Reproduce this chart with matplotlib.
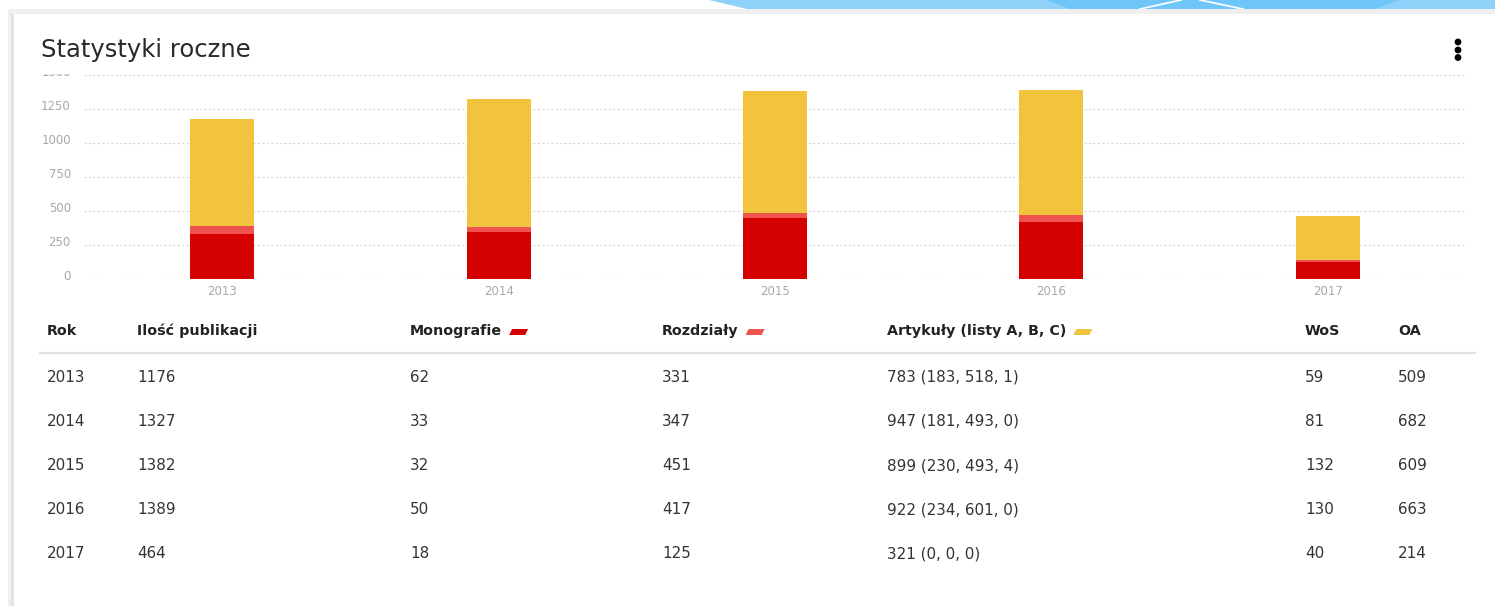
import matplotlib
matplotlib.use("Agg")
import matplotlib.pyplot as plt
from matplotlib.patches import Rectangle, Polygon, Circle
from matplotlib.transforms import IdentityTransform, ScaledTranslation

plt.rcParams['font.family'] = ['DejaVu Sans']

# ---- data ----
years = ["2013", "2014", "2015", "2016", "2017"]
total = [1176, 1327, 1382, 1389, 464]
monografie = [62, 33, 32, 50, 18]
rozdzialy = [331, 347, 451, 417, 125]
artykuly = [783, 947, 899, 922, 321]
artykuly_detail = ["(183, 518, 1)", "(181, 493, 0)", "(230, 493, 4)", "(234, 601, 0)", "(0, 0, 0)"]
wos = [59, 81, 132, 130, 40]
oa = [509, 682, 609, 663, 214]
yticks = [0, 250, 500, 750, 1000, 1250, 1500]
headers = ["Rok", "Ilość publikacji", "Monografie", "Rozdziały", "Artykuły (listy A, B, C)", "WoS", "OA"]

C_DARK = "#d50000"
C_LIGHT = "#ef5350"
C_YEL = "#f2c43d"

W, H = 1495, 606
fig = plt.figure(figsize=(W / 100, H / 100), dpi=100)
fig.patch.set_facecolor("white")
ID = IdentityTransform()


def px(x, y):
    return x, H - y


def fx(x):
    return x / W


def fy(y):
    return 1 - y / H


# ---- background decoration ----
fig.patches.append(Polygon([px(709, 0), px(1495, 0), px(1495, 9), px(747, 9)],
                           closed=True, transform=ID, facecolor="#90d3fa", edgecolor="none", zorder=-5))
fig.patches.append(Polygon([px(1046, 0), px(1400, 0), px(1375, 9), px(1070, 9)],
                           closed=True, transform=ID, facecolor="#6ec6f8", edgecolor="none", zorder=-4))
fig.lines.append(plt.Line2D([1140, 1181], [H - 9, H], transform=ID, color="white", lw=1.2, zorder=-3))
fig.lines.append(plt.Line2D([1200, 1243], [H, H - 9], transform=ID, color="white", lw=1.2, zorder=-3))
# card shadow
fig.patches.append(Rectangle(px(8, 606), 3, 597, transform=ID, facecolor="#f0f0f0", edgecolor="none", zorder=-3))
fig.patches.append(Rectangle(px(11, 606), 4, 597, transform=ID, facecolor="#e2e2e2", edgecolor="none", zorder=-3))
fig.patches.append(Rectangle(px(8, 14), 1487, 5, transform=ID, facecolor="#efefef", edgecolor="none", zorder=-3))
fig.patches.append(Rectangle(px(14, 606), 1481, 592, transform=ID, facecolor="white", edgecolor="none", zorder=-2))

# ---- chart ----
ax_l, ax_r, ax_b, ax_t = 84, 1466, 279, 75
ax = fig.add_axes([fx(ax_l), fy(ax_b), (ax_r - ax_l) / W, (ax_b - ax_t) / H])
ax.set_facecolor("none")
x = list(range(len(years)))
bw = 0.232
ax.bar(x, rozdzialy, width=bw, color=C_DARK, zorder=3)
bottom2 = [r for r in rozdzialy]
ax.bar(x, monografie, width=bw, bottom=bottom2, color=C_LIGHT, zorder=3)
bottom3 = [r + m for r, m in zip(rozdzialy, monografie)]
ax.bar(x, artykuly, width=bw, bottom=bottom3, color=C_YEL, zorder=3)
ax.set_xlim(-0.5, len(years) - 0.5)
ax.set_ylim(0, 1500)
ax.set_yticks(yticks)
ax.set_yticklabels([str(v) for v in yticks])
ax.set_xticks(x)
ax.set_xticklabels(years)
for s in ax.spines.values():
    s.set_visible(False)
ax.tick_params(axis="both", length=0, colors="#a8a8a8", labelsize=8.5)
ax.tick_params(axis="y", pad=9.5)
ax.tick_params(axis="x", pad=4)
ax.yaxis.grid(True, linestyle=(0, (2, 2)), color="#d8d8d8", lw=0.8, zorder=0)
ax.set_axisbelow(True)
shift = ScaledTranslation(0, 4 / 100, fig.dpi_scale_trans)
for lab in ax.get_yticklabels():
    lab.set_transform(lab.get_transform() + shift)

# cover top of clipped 1500 label
fig.patches.append(Rectangle(px(15, 74), 1400, 50, transform=ID, facecolor="white", edgecolor="none", zorder=5))

# title
fig.text(fx(41), fy(50), "Statystyki roczne", fontsize=17.5, color="#2a2a2a", va="center", ha="left", zorder=6)
# menu dots
for yy in (42, 50, 57.5):
    fig.patches.append(Circle(px(1458, yy), 3.4, transform=ID, facecolor="black", edgecolor="none", zorder=6))

# ---- table ----
col_x = [47, 137, 410, 662, 887, 1305, 1398]
hdr_y = 331
row_y = [377, 421, 466, 510, 554]
swatch_cols = {2: C_DARK, 3: C_LIGHT, 4: C_YEL}

hdr_texts = []
for i, h in enumerate(headers):
    t = fig.text(fx(col_x[i]), fy(hdr_y), h, fontsize=10.3, fontweight="bold", color="#222222",
                 va="center", ha="left")
    hdr_texts.append(t)

fig.lines.append(plt.Line2D([40, 1475], [H - 353, H - 353], transform=ID, color="#e2e2e2", lw=1.6))

for r in range(len(years)):
    vals = [years[r], str(total[r]), str(monografie[r]), str(rozdzialy[r]),
            f"{artykuly[r]} {artykuly_detail[r]}", str(wos[r]), str(oa[r])]
    for i, v in enumerate(vals):
        fig.text(fx(col_x[i]), fy(row_y[r]), v, fontsize=10.9, color="#333333", va="center", ha="left")

fig.canvas.draw()
renderer = fig.canvas.get_renderer()
for i, c in swatch_cols.items():
    bb = hdr_texts[i].get_window_extent(renderer)
    x0 = bb.x1 + 7
    yc = H - hdr_y - 1
    fig.patches.append(Polygon([(x0 + 3, yc + 3), (x0 + 19, yc + 3), (x0 + 16, yc - 3), (x0, yc - 3)],
                               closed=True, transform=ID, facecolor=c, edgecolor="none"))

fig.savefig("out.png", dpi=100)
